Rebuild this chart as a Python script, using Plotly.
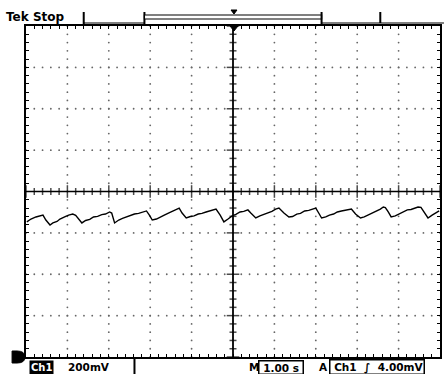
import numpy as np
import plotly.graph_objects as go

# ---- data (1.00 s/div, 200 mV/div, centre = 0) ----
time_s = [0.02, 0.12, 0.24, 0.34, 0.41, 0.48, 0.58, 0.65, 0.75, 0.82, 0.89, 0.96, 1.03, 1.13, 1.20,
          1.35, 1.44, 1.54, 1.63, 1.73, 1.83, 1.92, 2.02, 2.07, 2.14, 2.24, 2.33, 2.43, 2.52, 2.62,
          2.72, 2.81, 2.91, 2.98, 3.05, 3.15, 3.25, 3.34, 3.44, 3.53, 3.63, 3.70, 3.77, 3.87, 3.97,
          4.06, 4.16, 4.25, 4.35, 4.45, 4.54, 4.59, 4.69, 4.78, 4.88, 4.98, 5.07, 5.17, 5.26, 5.36,
          5.43, 5.55, 5.65, 5.75, 5.84, 5.94, 6.03, 6.11, 6.23, 6.35, 6.44, 6.54, 6.63, 6.73, 6.83,
          6.92, 7.00, 7.07, 7.14, 7.24, 7.33, 7.43, 7.52, 7.62, 7.72, 7.81, 7.86, 7.96, 8.08, 8.17,
          8.27, 8.37, 8.46, 8.56, 8.63, 8.68, 8.75, 8.82, 8.92, 9.01, 9.11, 9.21, 9.30, 9.40, 9.47,
          9.54, 9.62, 9.71, 9.81, 9.90, 9.98]
ch1_mV = [-147, -133, -123, -118, -114, -138, -162, -152, -145, -133, -128, -120, -114, -109, -115,
          -152, -140, -135, -123, -120, -112, -109, -99, -104, -152, -138, -130, -123, -116, -109,
          -106, -99, -94, -114, -138, -133, -121, -114, -104, -96, -89, -80, -104, -128, -121,
          -118, -109, -106, -99, -94, -89, -85, -114, -147, -133, -118, -111, -99, -96, -89,
          -104, -128, -118, -111, -104, -96, -85, -80, -104, -123, -121, -109, -106, -94, -91,
          -85, -80, -104, -128, -123, -114, -109, -99, -94, -89, -87, -85, -109, -128, -123,
          -114, -104, -94, -85, -75, -78, -99, -123, -118, -109, -99, -89, -87, -80, -75,
          -77, -104, -128, -114, -104, -94]

x_div_count = 10
y_div_count = 8
sec_per_div = 1.0
mv_per_div = 200.0

# ---- layout geometry ----
W, H = 446, 374
L, R, T, B = 26, 442, 26, 357
def px(x):
    return (x - L) / (R - L)
def py(y):
    return (B - y) / (B - T)

fig = go.Figure()

xmax = x_div_count * sec_per_div
ymax = y_div_count / 2 * mv_per_div

# graticule dots
gx, gy = [], []
for k in range(1, x_div_count):
    if k == 5:
        continue
    for v in np.arange(-ymax, ymax + 1, mv_per_div / 5):
        gx.append(k * sec_per_div); gy.append(v)
for k in range(1, y_div_count):
    if k == 4:
        continue
    v = -ymax + k * mv_per_div
    for t in np.arange(0, xmax + 0.01, sec_per_div / 5):
        gx.append(t); gy.append(v)
fig.add_trace(go.Scatter(x=gx, y=gy, mode="markers",
                         marker=dict(size=1.8, color="#666"), hoverinfo="skip"))

# centre crosshair ticks
tx = list(np.arange(0, xmax + 0.01, sec_per_div / 5))
fig.add_trace(go.Scatter(x=tx, y=[0] * len(tx), mode="markers",
                         marker=dict(symbol="line-ns", size=[9 if abs(t - round(t)) < 1e-6 else 5 for t in tx],
                                     line=dict(width=1.5, color="black")), hoverinfo="skip"))
ty = list(np.arange(-ymax, ymax + 1, mv_per_div / 5))
fig.add_trace(go.Scatter(x=[5] * len(ty), y=ty, mode="markers",
                         marker=dict(symbol="line-ew", size=[9 if abs(v / mv_per_div - round(v / mv_per_div)) < 1e-6 else 5 for v in ty],
                                     line=dict(width=1.5, color="black")), hoverinfo="skip"))

# waveform
fig.add_trace(go.Scatter(x=time_s, y=ch1_mV, mode="lines",
                         line=dict(color="black", width=1.4), hoverinfo="skip"))

shapes = [
    dict(type="line", xref="x", yref="y", x0=0, x1=xmax, y0=0, y1=0, line=dict(color="black", width=1.5)),
    dict(type="line", xref="x", yref="y", x0=5, x1=5, y0=-ymax, y1=ymax, line=dict(color="black", width=1.8)),
    # top record bar
    dict(type="line", xref="paper", yref="paper", x0=px(84), x1=px(84), y0=py(12), y1=py(24), line=dict(color="black", width=2)),
    dict(type="line", xref="paper", yref="paper", x0=px(84), x1=px(145), y0=py(23), y1=py(23), line=dict(color="black", width=1)),
    dict(type="line", xref="paper", yref="paper", x0=px(145), x1=px(145), y0=py(12), y1=py(24), line=dict(color="black", width=2)),
    dict(type="rect", xref="paper", yref="paper", x0=px(145), x1=px(323), y0=py(15), y1=py(19), line=dict(color="black", width=1.2), fillcolor="white"),
    dict(type="line", xref="paper", yref="paper", x0=px(323), x1=px(323), y0=py(12), y1=py(24), line=dict(color="black", width=2)),
    dict(type="line", xref="paper", yref="paper", x0=px(323), x1=px(446), y0=py(23), y1=py(23), line=dict(color="black", width=1)),
    dict(type="line", xref="paper", yref="paper", x0=px(382), x1=px(382), y0=py(12), y1=py(23), line=dict(color="black", width=2)),
    dict(type="path", xref="paper", yref="paper",
         path=f"M {px(232)},{py(10)} L {px(238)},{py(10)} L {px(235)},{py(14)} Z",
         fillcolor="black", line=dict(color="black", width=1)),
    dict(type="path", xref="paper", yref="paper",
         path=f"M {px(231)},{py(26)} L {px(239)},{py(26)} L {px(235)},{py(31)} Z",
         fillcolor="black", line=dict(color="black", width=1)),
    # bottom separators
    dict(type="line", xref="paper", yref="paper", x0=px(135), x1=px(135), y0=py(357), y1=py(374), line=dict(color="black", width=2)),
    dict(type="path", xref="paper", yref="paper",
         path=f"M {px(12)},{py(351)} L {px(17)},{py(351)} Q {px(25)},{py(351)} {px(25)},{py(357)} Q {px(25)},{py(363)} {px(17)},{py(363)} L {px(12)},{py(363)} Z",
         fillcolor="black", line=dict(color="black", width=1)),
]

fnt = dict(family="DejaVu Sans, Arial", size=10.5, color="black")
ann = [
    dict(text="<b>Tek Stop</b>", x=px(4), y=py(17), xanchor="left", yanchor="middle",
         font=dict(family="DejaVu Sans", size=12, color="black")),
    dict(text="<b>Ch1</b>", x=px(29), y=py(367), xanchor="left", yanchor="middle",
         font=dict(family="DejaVu Sans", size=10, color="white"), bgcolor="black", borderpad=1),
    dict(text="<b>200mV</b>", x=px(66), y=py(367), xanchor="left", yanchor="middle", font=fnt),
    dict(text="<b>M</b>", x=px(248), y=py(367), xanchor="left", yanchor="middle", font=fnt),
    dict(text="<b>\u00a01.00 s\u00a0</b>", x=px(259), y=py(367), xanchor="left", yanchor="middle", font=fnt,
         bordercolor="black", borderwidth=1.5, borderpad=0),
    dict(text="<b>A</b>", x=px(318), y=py(367), xanchor="left", yanchor="middle", font=fnt),
    dict(text="<b>\u00a0Ch1\u00a0\u00a0∫\u00a0\u00a04.00mV</b>", x=px(330), y=py(367), xanchor="left", yanchor="middle", font=fnt,
         bordercolor="black", borderwidth=1.5, borderpad=0),
]
for a in ann:
    a.update(xref="paper", yref="paper", showarrow=False)

axis_common = dict(showgrid=False, zeroline=False, showline=True, linecolor="black", linewidth=2,
                   mirror="ticks", ticks="inside", ticklen=3, tickwidth=1, tickcolor="black",
                   showticklabels=False, fixedrange=True)
fig.update_layout(
    width=W, height=H,
    margin=dict(l=L, r=W - R, t=T, b=H - B),
    paper_bgcolor="white", plot_bgcolor="white",
    showlegend=False,
    xaxis=dict(range=[0, xmax], dtick=sec_per_div / 5, tick0=0, **axis_common),
    yaxis=dict(range=[-ymax, ymax], dtick=mv_per_div / 5, tick0=0, **axis_common),
    shapes=shapes, annotations=ann,
)

fig.write_html("out.html")
